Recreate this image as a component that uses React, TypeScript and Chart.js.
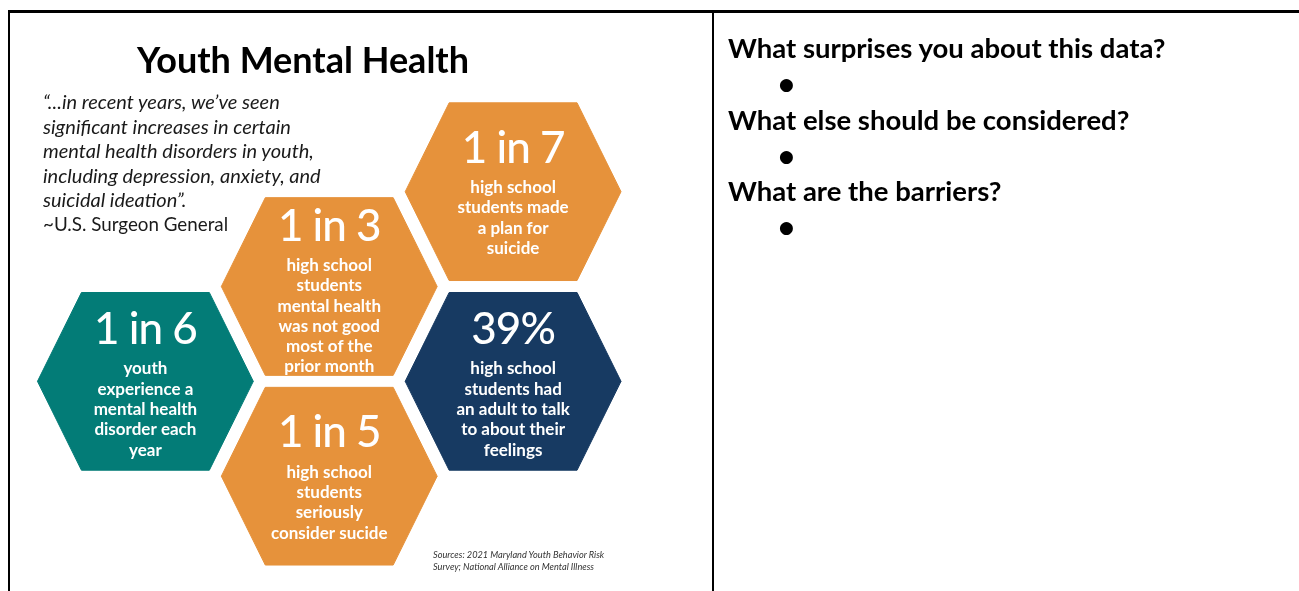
import React, { useEffect, useRef } from "react";
import { Chart, registerables } from "chart.js";

Chart.register(...registerables);

// ---- Data ----
const statValues = ["1 in 6", "1 in 3", "1 in 5", "1 in 7", "39%"];
const statDescriptions: string[][] = [
  ["youth", "experience a", "mental health", "disorder each", "year"],
  ["high school", "students", "mental health", "was not good", "most of the", "prior month"],
  ["high school", "students", "seriously", "consider sucide"],
  ["high school", "students made", "a plan for", "suicide"],
  ["high school", "students had", "an adult to talk", "to about their", "feelings"],
];
// position in the honeycomb grid: column and half-row
const statColumns = [0, 1, 1, 2, 2];
const statRows = [2, 1, 3, 0, 2];
const statColors = ["#037C77", "#E6923B", "#E6923B", "#E6923B", "#173A62"];

const titleText = "Youth Mental Health";
const quoteLines = [
  "\u201C...in recent years, we\u2019ve seen",
  "significant increases in certain",
  "mental health disorders in youth,",
  "including depression, anxiety, and",
  "suicidal ideation\u201D.",
];
const quoteAuthor = "~U.S. Surgeon General";
const sourceLines = [
  "Sources: 2021 Maryland Youth Behavior Risk",
  "Survey; National Alliance on Mental Illness",
];
const questions = [
  "What surprises you about this data?",
  "What else should be considered?",
  "What are the barriers?",
];

// ---- Layout constants (grid -> pixels) ----
const COL_PX = 184;
const ROW_PX = 95;
const ORIGIN_X = 145;
const ORIGIN_Y = 191.5;
const HEX_HALF_W = 108 / COL_PX;
const HEX_TOP_HALF = 64 / COL_PX;
const HEX_HALF_H = 89 / ROW_PX;
const CANVAS_W = 1299;
const CANVAS_H = 591;

const hexLabelPlugin = {
  id: "hexLabels",
  afterDatasetsDraw(chart: any) {
    const { ctx } = chart;
    const xs = chart.scales.x;
    const ys = chart.scales.y;
    statValues.forEach((v, i) => {
      const px = xs.getPixelForValue(statColumns[i]);
      const py = ys.getPixelForValue(statRows[i]);
      const lines = statDescriptions[i];
      const n = lines.length;
      const numY = py - 43 - (n - 4) * 8.5;
      ctx.save();
      ctx.fillStyle = "#ffffff";
      ctx.textAlign = "center";
      ctx.textBaseline = "middle";
      ctx.font = "500 44px Lato";
      try { (ctx as any).letterSpacing = "-1px"; } catch (e) {}
      ctx.fillText(v, px, numY);
      try { (ctx as any).letterSpacing = "0px"; } catch (e) {}
      ctx.font = "700 17px Lato";
      lines.forEach((l, j) => ctx.fillText(l, px, numY + 39 + j * 20.3));
      ctx.restore();
    });
  },
};

function HexChart() {
  const ref = useRef<HTMLCanvasElement | null>(null);
  useEffect(() => {
    if (!ref.current) return;
    const shape = [
      [-HEX_HALF_W, 0],
      [-HEX_TOP_HALF, -HEX_HALF_H],
      [HEX_TOP_HALF, -HEX_HALF_H],
      [HEX_HALF_W, 0],
      [HEX_TOP_HALF, HEX_HALF_H],
      [-HEX_TOP_HALF, HEX_HALF_H],
      [-HEX_HALF_W, 0],
    ];
    const datasets = statValues.map((v, i) => ({
      label: v,
      data: shape.map(([dx, dy]) => ({ x: statColumns[i] + dx, y: statRows[i] + dy })),
      showLine: true,
      fill: "shape",
      backgroundColor: statColors[i],
      borderColor: statColors[i],
      borderWidth: 1,
      pointRadius: 0,
      pointHoverRadius: 0,
      tension: 0,
    }));
    const chart = new Chart(ref.current, {
      type: "scatter",
      data: { datasets } as any,
      options: {
        animation: false,
        responsive: true,
        maintainAspectRatio: false,
        events: [],
        layout: { padding: 0 },
        plugins: { legend: { display: false }, tooltip: { enabled: false } },
        scales: {
          x: {
            type: "linear",
            display: false,
            min: -ORIGIN_X / COL_PX,
            max: (CANVAS_W - ORIGIN_X) / COL_PX,
          },
          y: {
            type: "linear",
            display: false,
            reverse: true,
            min: -ORIGIN_Y / ROW_PX,
            max: (CANVAS_H - ORIGIN_Y) / ROW_PX,
          },
        },
      } as any,
      plugins: [hexLabelPlugin],
    });
    if ((document as any).fonts && (document as any).fonts.load) {
      Promise.all([
        (document as any).fonts.load("500 44px Lato"),
        (document as any).fonts.load("700 17px Lato"),
      ]).then(() => chart.update()).catch(() => {});
    }
    return () => chart.destroy();
  }, []);
  return (
    <div style={{ position: "absolute", left: 0, top: 0, width: CANVAS_W, height: CANVAS_H }}>
      <canvas ref={ref} />
    </div>
  );
}

export default function App() {
  const abs: React.CSSProperties = { position: "absolute", whiteSpace: "nowrap", zIndex: 1 };
  return (
    <div style={{ position: "absolute", left: 0, top: 0, width: CANVAS_W, height: CANVAS_H, overflow: "hidden", background: "#fff" }}>
      <HexChart />
      {/* table frame */}
      <div style={{ position: "absolute", left: 8, top: 10, width: CANVAS_W - 8, height: 2.5, background: "#000" }} />
      <div style={{ position: "absolute", left: 8, top: 10, width: 2, height: CANVAS_H - 10, background: "#000" }} />
      <div style={{ position: "absolute", left: 712, top: 10, width: 2, height: CANVAS_H - 10, background: "#000" }} />

      <div style={{ ...abs, left: 10, width: 586, top: 41, textAlign: "center", fontFamily: "Lato", fontWeight: 700, fontSize: 36, lineHeight: "36px", color: "#000" }}>
        {titleText}
      </div>

      <div style={{ ...abs, left: 43, top: 89, fontFamily: "Lato", fontSize: 20, lineHeight: "24.6px", color: "#1a1a1a" }}>
        {quoteLines.map((l, i) => (
          <div key={i} style={{ fontStyle: "italic" }}>{l}</div>
        ))}
        <div style={{ fontSize: 18.8 }}>{quoteAuthor}</div>
      </div>

      <div style={{ ...abs, left: 433, top: 549, fontFamily: "Lato", fontStyle: "italic", fontSize: 9.2, lineHeight: "12px", color: "#333" }}>
        {sourceLines.map((l, i) => (
          <div key={i}>{l}</div>
        ))}
      </div>

      {questions.map((q, i) => (
        <React.Fragment key={i}>
          <div style={{ ...abs, left: 728, top: 30 + i * 71.6, fontFamily: "Lato", fontWeight: 700, fontSize: 27.5, lineHeight: "36px", color: "#000" }}>
            {q}
          </div>
          <div style={{ ...abs, left: 779, top: 66 + i * 71.6, fontFamily: "DejaVu Sans", fontSize: 17, lineHeight: "36px", color: "#000" }}>
            {"\u25CF"}
          </div>
        </React.Fragment>
      ))}
    </div>
  );
}
